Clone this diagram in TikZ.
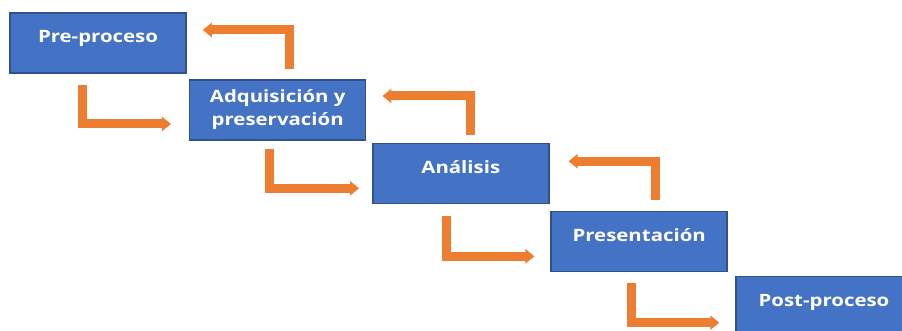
\documentclass[tikz,border=0pt]{standalone}
\usepackage{fontspec}
\usepackage{tikz}
\usetikzlibrary{arrows.meta}
\newfontfamily\cajafont[FakeStretch=1.2]{Open Sans}
\definecolor{azul}{HTML}{4472C4}
\definecolor{bordeazul}{HTML}{2F528F}
\definecolor{naranja}{HTML}{ED7D31}
\tikzset{
  caja/.style={rectangle, draw=bordeazul, fill=azul, line width=1.5pt,
    minimum width=176pt, minimum height=60pt, inner sep=0pt, align=center,
    text=white, font=\cajafont\bfseries\fontsize{17}{23}\selectfont},
  paso/.style={caja, text height=12pt, text depth=12pt},
  flecha/.style={draw=naranja, line width=9pt, line join=miter,
    -{Triangle[width=14pt,length=9pt]}}
}

\begin{document}
\begin{tikzpicture}[x=1pt, y=-1pt]
      \useasboundingbox (0,0) rectangle (902,331);
      \clip (0,0) rectangle (902,331);

      \node[paso] (pre) at (98,43) {Pre-proceso};
      \node[caja] (adq) at (277.7,110) {Adquisición y\\preservación};
      \node[paso] (ana) at (460.8,173.3) {Análisis};
      \node[paso] (pres) at (639.2,241.3) {Presentación};
      \node[paso] (post) at (824,306.7) {Post-proceso};

      \draw[flecha] ([shift={(73,11)}]pre.south west) |- ([shift={(-18,14)}]adq.west);
      \draw[flecha] ([shift={(81,8)}]adq.south west) |- ([shift={(-13,15)}]ana.west);
      \draw[flecha] ([shift={(74,12)}]ana.south west) |- ([shift={(-16,15)}]pres.west);
      \draw[flecha] ([shift={(81,11)}]pres.south west) |- ([shift={(-16,16)}]post.west);

      \draw[flecha] ([shift={(101,-10)}]adq.north west) |- ([shift={(16,-13)}]pre.east);
      \draw[flecha] ([shift={(98,-8)}]ana.north west) |- ([shift={(16,-14)}]adq.east);
      \draw[flecha] ([shift={(105,-11)}]pres.north west) |- ([shift={(19,-12)}]ana.east);
\end{tikzpicture}
\end{document}
